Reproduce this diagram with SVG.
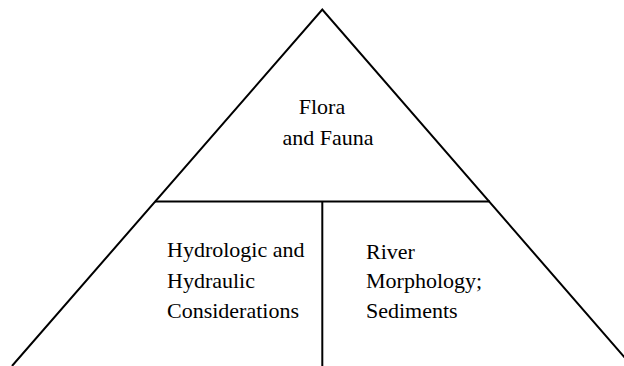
<svg xmlns="http://www.w3.org/2000/svg" width="624" height="366" viewBox="0 0 624 366">
<style>
.ln{stroke:#000;stroke-width:2;fill:none}
.t{font-family:"Liberation Serif","Times New Roman",serif;font-size:22px;fill:#000}
</style>
<rect width="624" height="366" fill="#fff"/>
<g id="connectors">
<polyline class="ln" points="12,366 322.3,9.5 632,366"/>
<line class="ln" x1="155" y1="201.5" x2="490" y2="201.5"/>
<line class="ln" x1="322.3" y1="201.5" x2="322.3" y2="366"/>
</g>
<g id="flora">
<text class="t" x="322" y="114" text-anchor="middle">Flora</text>
<text class="t" x="328" y="145" text-anchor="middle">and Fauna</text>
</g>
<g id="hydro">
<text class="t" x="167" y="257">Hydrologic and</text>
<text class="t" x="167" y="288">Hydraulic</text>
<text class="t" x="167" y="318">Considerations</text>
</g>
<g id="river">
<text class="t" x="366" y="259">River</text>
<text class="t" x="366" y="288">Morphology;</text>
<text class="t" x="366" y="318">Sediments</text>
</g>
</svg>
